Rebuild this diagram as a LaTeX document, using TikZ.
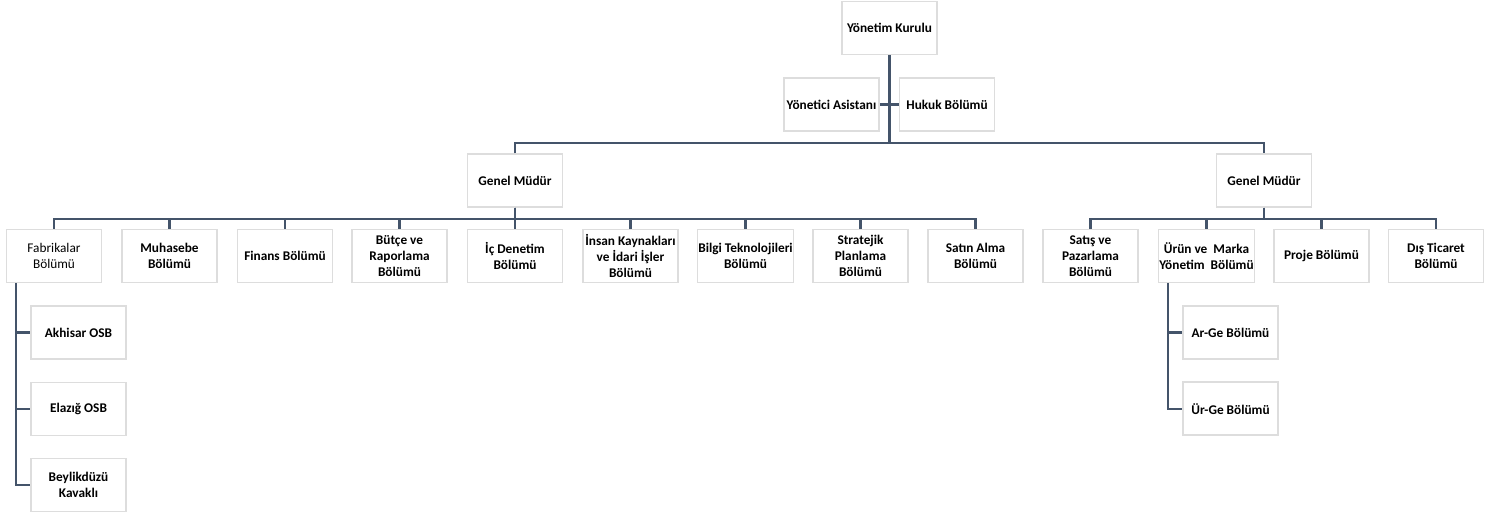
\documentclass[tikz,border=0pt]{standalone}
\usepackage{fontspec}
\setmainfont{Carlito}
\definecolor{linec}{HTML}{44546A}
\definecolor{boxc}{HTML}{DDDDDD}
\begin{document}
\begin{tikzpicture}[x=1pt,y=-1pt,
  box/.style={draw=boxc,line width=1.5pt,fill=white,minimum width=95pt,minimum height=53pt,
    inner sep=1pt,align=center,font=\fontsize{13.3}{15.8}\selectfont\bfseries},
  conn/.style={draw=linec,line width=2.1pt}]
\useasboundingbox (0,0) rectangle (1485,517);
% top
\node[box] (yk) at (889.5,28) {Yönetim Kurulu};
\node[box] (ya) at (831.5,104.5) {Yönetici Asistanı};
\node[box] (hk) at (947,104.5) {Hukuk Bölümü};
\node[box] (gmL) at (515,180.5) {Genel Müdür};
\node[box] (gmR) at (1264,180.5) {Genel Müdür};
% left children
\node[box,font=\fontsize{13.3}{15.8}\selectfont] (fab) at (54,256) {Fabrikalar\\Bölümü};
\node[box] (muh) at (169.5,256) {Muhasebe\\Bölümü};
\node[box] (fin) at (285,256) {Finans Bölümü};
\node[box] (but) at (399.5,256) {Bütçe ve\\Raporlama\\Bölümü};
\node[box] (ic) at (515,256) {İç Denetim\\Bölümü};
\node[box] (ik) at (630.5,256) {İnsan Kaynakları\\ve İdari İşler\\Bölümü};
\node[box] (bt) at (745.5,256) {Bilgi Teknolojileri\\Bölümü};
\node[box] (sp) at (860.5,256) {Stratejik\\Planlama\\Bölümü};
\node[box] (sa) at (975.5,256) {Satın Alma\\Bölümü};
% right children
\node[box] (spz) at (1090.5,256) {Satış ve\\Pazarlama\\Bölümü};
\node[box] (urn) at (1206.5,256) {Ürün ve~ Marka\\Yönetim~ Bölümü};
\node[box] (prj) at (1321.5,256) {Proje Bölümü};
\node[box] (dt) at (1436,256) {Dış Ticaret\\Bölümü};
% sub children
\node[box] (akh) at (78.5,332.5) {Akhisar OSB};
\node[box] (elz) at (78.5,409) {Elazığ OSB};
\node[box] (bey) at (78.5,485) {Beylikdüzü\\Kavaklı};
\node[box] (arge) at (1230.5,332.5) {Ar-Ge Bölümü};
\node[box] (urge) at (1230.5,408.7) {Ür-Ge Bölümü};
% connectors
\coordinate (bus) at (889.5,143);
\path[conn] (yk.south) -- (bus);
\path[conn] (ya.east) -- (hk.west);
\path[conn] (gmL.north) |- (bus) -| (gmR.north);
\foreach \c in {fab,muh,fin,but,ic,ik,bt,sp,sa}
  \path[conn] (gmL.south) -- ++(0,11) -| (\c.north);
\foreach \c in {spz,urn,prj,dt}
  \path[conn] (gmR.south) -- ++(0,11) -| (\c.north);
\foreach \c in {akh,elz,bey}
  \path[conn] ([xshift=-38.3pt]fab.south) |- (\c.west);
\foreach \c in {arge,urge}
  \path[conn] ([xshift=-38.3pt]urn.south) |- (\c.west);
\end{tikzpicture}
\end{document}
